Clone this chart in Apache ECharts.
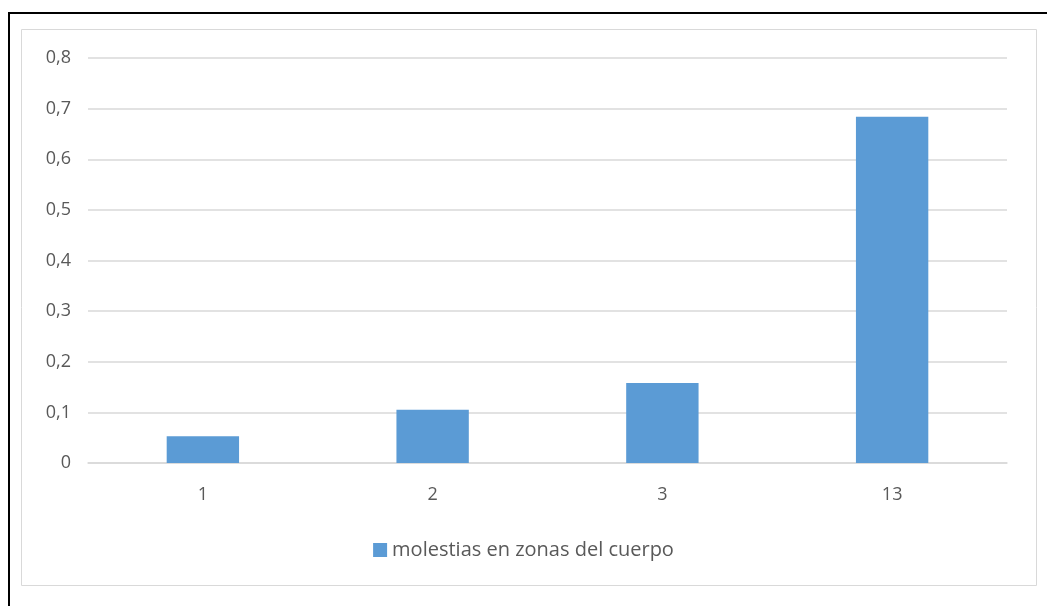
<!DOCTYPE html>
<html><head><meta charset="utf-8">
<script src="https://cdn.jsdelivr.net/npm/echarts@6/dist/echarts.min.js"></script>
<style>
html,body{margin:0;padding:0;background:#fff;}
#c{width:1047px;height:606px;position:absolute;left:0;top:0;}
#frame{position:absolute;left:8px;top:12px;width:1100px;height:700px;border-left:2px solid #000;border-top:2px solid #000;pointer-events:none;}
</style></head>
<body>
<div id="c"></div>
<div id="frame"></div>
<script>
const categories = ['1', '2', '3', '13'];
const values = [0.053, 0.105, 0.158, 0.684];
const seriesName = 'molestias en zonas del cuerpo';
const yTicks = { min: 0, max: 0.8, interval: 0.1 };

const chart = echarts.init(document.getElementById('c'));
const font = "'Open Sans', 'Noto Sans', sans-serif";
chart.setOption({
  animation: false,
  textStyle: { fontFamily: font },
  graphic: [{
    type: 'rect', shape: { x: 21.5, y: 29.5, width: 1015, height: 556 },
    style: { fill: 'none', stroke: '#d9d9d9', lineWidth: 1 }, silent: true
  }],
  grid: { left: 88, right: 40, top: 58, bottom: 143 },
  legend: {
    data: [seriesName], bottom: 41, left: 'center',
    itemWidth: 14, itemHeight: 14, itemGap: 5,
    icon: 'rect',
    textStyle: { color: '#595959', fontSize: 20, fontFamily: font, padding: [0, 0, 0, 0] }
  },
  xAxis: {
    type: 'category', data: categories,
    axisLine: { lineStyle: { color: '#d9d9d9', width: 1.5 } },
    axisTick: { show: false },
    axisLabel: { color: '#595959', fontSize: 18, margin: 23 }
  },
  yAxis: {
    type: 'value', min: yTicks.min, max: yTicks.max, interval: yTicks.interval,
    axisLine: { show: false }, axisTick: { show: false },
    splitLine: { lineStyle: { color: '#d9d9d9', width: 1.5 } },
    axisLabel: { color: '#595959', fontSize: 18, margin: 17,
      formatter: v => (Math.round(v * 10) / 10).toString().replace('.', ',') }
  },
  series: [{
    name: seriesName, type: 'bar', data: values,
    barWidth: '31.5%', itemStyle: { color: '#5B9BD5' }
  }]
});
</script>
</body></html>
